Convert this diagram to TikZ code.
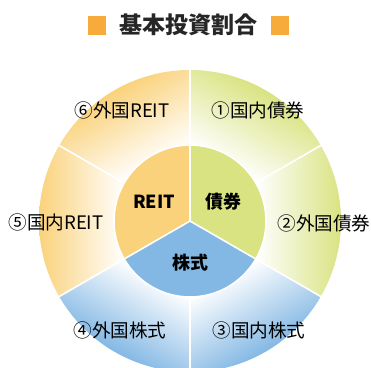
\documentclass[tikz,border=0pt]{standalone}
\usepackage{fontspec}
\setmainfont{Noto Sans CJK JP}
\definecolor{cgreen}{HTML}{D9E381}
\definecolor{cblue}{HTML}{84B8E4}
\definecolor{corange}{HTML}{FAD27B}
\definecolor{ctitle}{HTML}{F6AB3B}
\tikzset{
  sep/.style={white,line width=1.6pt},
  outerlabel/.style={font=\fontsize{18.6}{18.6}\selectfont,text=black,inner sep=0pt},
  innerlabel/.style={font=\fontsize{18}{18}\selectfont\bfseries,text=black,inner sep=0pt},
  titlelabel/.style={font=\fontsize{23}{23}\selectfont\bfseries,text=black!85,inner sep=0pt},
}
\newcommand{\outersector}[2]{%
  \begin{scope}[transform canvas={shift={(190pt,146pt)},rotate=#1}]
    \begin{scope}
      \clip (30:151) arc[start angle=30,end angle=-30,radius=151]
        -- (-30:76) arc[start angle=-30,end angle=30,radius=76] -- cycle;
      \shade[left color=white,right color=#2] (65.8,-90) rectangle (151,90);
    \end{scope}
  \end{scope}}
\begin{document}
\begin{tikzpicture}[x=1pt,y=1pt]
\useasboundingbox (0,0) rectangle (371,367);
\clip (0,0) rectangle (371,367);
\fill[white] (0,0) rectangle (371,367);
% outer ring sectors (bisector angle, colour)
\outersector{60}{cgreen}
\outersector{0}{cgreen}
\outersector{-60}{cblue}
\outersector{-120}{cblue}
\outersector{180}{corange}
\outersector{120}{corange}
% inner sectors
\begin{scope}[shift={(190,146)}]
  \coordinate (C) at (0,0);
  \fill[cgreen] (C) -- (90:76) arc[start angle=90,end angle=-30,radius=76] -- cycle;
  \fill[cblue] (C) -- (-30:76) arc[start angle=-30,end angle=-150,radius=76] -- cycle;
  \fill[corange] (C) -- (210:76) arc[start angle=210,end angle=90,radius=76] -- cycle;
  % separators
  \draw[sep] (C) circle (76);
  \foreach \a in {90,-30,210} \draw[sep] (C) -- (\a:152);
  \foreach \a in {30,-90,150} \draw[sep] (\a:76) -- (\a:152);
\end{scope}
% title
\fill[ctitle] (88,332) rectangle (106,351);
\fill[ctitle] (271,332) rectangle (289,351);
\node[titlelabel] (title) at (188.5,342) {基本投資割合};
% inner labels
\node[innerlabel] (reit) at (154,165) {REIT};
\node[innerlabel] (bond) at (223,165) {債券};
\node[innerlabel] (stock) at (190,104) {株式};
% outer labels
\node[outerlabel] (o1) at (258,257) {①国内債券};
\node[outerlabel] (o2) at (324,144) {②外国債券};
\node[outerlabel] (o3) at (259,37) {③国内株式};
\node[outerlabel] (o4) at (120,37) {④外国株式};
\node[outerlabel] (o5) at (56,145) {⑤国内REIT};
\node[outerlabel] (o6) at (122,257) {⑥外国REIT};
\end{tikzpicture}
\end{document}
